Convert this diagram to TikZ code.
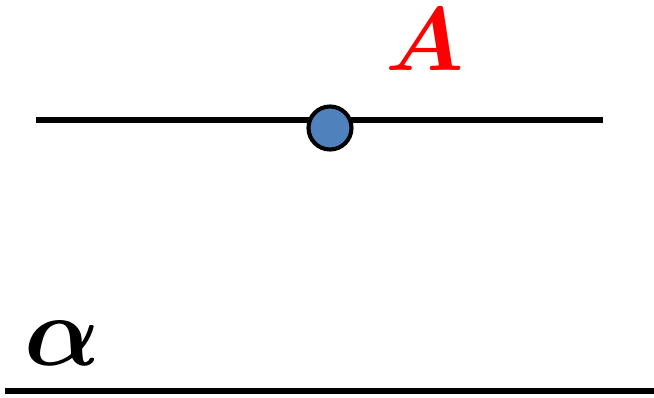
\documentclass[tikz,border=0pt]{standalone}
\usepackage{amsmath}
\definecolor{pointblue}{HTML}{4F81BD}
\begin{document}
\begin{tikzpicture}[x=0.03cm, y=-0.03cm, line width=5pt]
\useasboundingbox (0,0) rectangle (654,397);
\draw(36,120)--(603,120);
\draw(5,391)--(654,391);
\draw[fill=pointblue, line width=3.5pt](330,128) circle [radius=21.5];
\node[text=red, inner sep=0pt, scale=7.7] (A) at (425,40) {$\boldsymbol{A}$};
\node[inner sep=0pt, scale=8.5] (alpha) at (62,343) {$\boldsymbol{\alpha}$};
\end{tikzpicture}
\end{document}
